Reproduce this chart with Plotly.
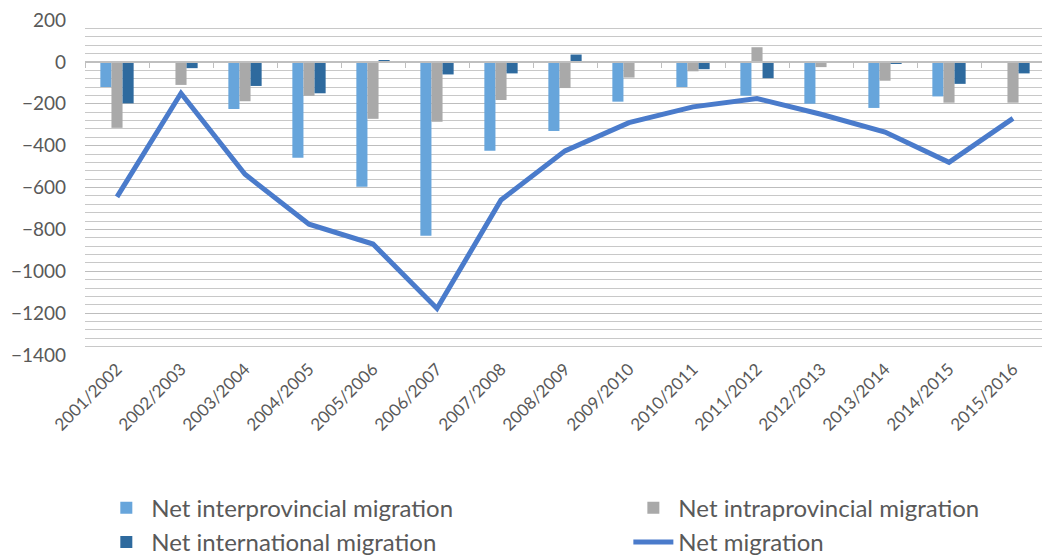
import plotly.graph_objects as go

years = ["2001/2002", "2002/2003", "2003/2004", "2004/2005", "2005/2006",
         "2006/2007", "2007/2008", "2008/2009", "2009/2010", "2010/2011",
         "2011/2012", "2012/2013", "2013/2014", "2014/2015", "2015/2016"]

interprovincial = [-120, 0, -225, -458, -597, -830, -425, -330, -190, -120, -162, -200, -220, -165, -5]
intraprovincial = [-315, -110, -188, -162, -272, -286, -182, -125, -75, -45, 70, -25, -90, -195, -195]
international = [-198, -30, -115, -150, 8, -60, -55, 35, -5, -35, -78, -5, -10, -105, -55]
net_migration = [-645, -150, -537, -775, -870, -1178, -660, -425, -290, -215, -175, -250, -335, -480, -270]

font_family = "Lato, 'Noto Sans', sans-serif"
grey_text = "#595959"

fig = go.Figure()

# legend columns: left = interprovincial + international, right = intraprovincial + net
fig.add_trace(go.Bar(x=years, y=interprovincial, name="Net interprovincial migration",
                     marker=dict(color="#67A5DB", line=dict(width=0)), legend="legend"))
fig.add_trace(go.Bar(x=years, y=intraprovincial, name="Net intraprovincial migration",
                     marker=dict(color="#A9A9A9", line=dict(width=0)), legend="legend2"))
fig.add_trace(go.Bar(x=years, y=international, name="Net international migration",
                     marker=dict(color="#2E6A9E", line=dict(width=0)), legend="legend"))
fig.add_trace(go.Scatter(x=years, y=net_migration, name="Net migration", mode="lines",
                         line=dict(color="#4A7BCB", width=5), legend="legend2"))

legend_style = dict(
    orientation="v",
    xanchor="left",
    y=-0.390,
    yanchor="top",
    font=dict(size=24, color=grey_text),
    itemwidth=40,
    tracegroupgap=0,
    bgcolor="rgba(0,0,0,0)",
)

fig.update_layout(
    width=1042,
    height=548,
    margin=dict(l=77, r=5, t=12, b=201, autoexpand=False),
    paper_bgcolor="white",
    plot_bgcolor="white",
    barmode="group",
    bargap=0.48,
    bargroupgap=0,
    font=dict(family=font_family, size=18, color=grey_text),
    showlegend=True,
    legend=dict(x=0.017, **legend_style),
    legend2=dict(x=0.566, **legend_style),
    xaxis=dict(
        type="category",
        tickangle=-45,
        showgrid=False,
        showline=False,
        ticks="",
        automargin=False,
        tickfont=dict(size=17, color=grey_text),
    ),
    xaxis2=dict(
        matches="x",
        overlaying="x",
        anchor="free",
        position=0.875,
        showline=True,
        linecolor="#BFBFBF",
        linewidth=2,
        ticks="outside",
        tickson="boundaries",
        ticklen=5,
        tickcolor="#BFBFBF",
        showticklabels=False,
        showgrid=False,
    ),
    yaxis=dict(
        range=[-1400, 200],
        dtick=200,
        tickformat="d",
        showgrid=True,
        gridcolor="#BDBDBD",
        gridwidth=1,
        zeroline=False,
        ticks="",
        automargin=False,
        ticklabeloverflow="allow",
        ticklabelstandoff=18,
        tickfont=dict(size=19, color=grey_text),
        minor=dict(dtick=40, showgrid=True, gridcolor="#C8C8C8", gridwidth=1),
    ),
)

# invisible trace to keep the zero-line axis drawn
fig.add_trace(go.Scatter(x=years, y=[0] * len(years), xaxis="x2", mode="none",
                         showlegend=False, hoverinfo="skip"))

fig.write_html("out.html")
